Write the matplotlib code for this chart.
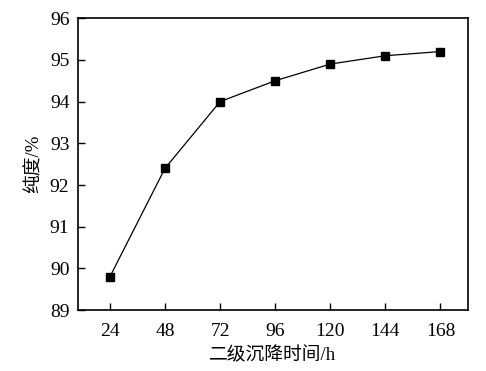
import matplotlib
matplotlib.use("Agg")
import matplotlib.pyplot as plt

hours = [24, 48, 72, 96, 120, 144, 168]
purity = [89.8, 92.4, 94.0, 94.5, 94.9, 95.1, 95.2]
yticks = [89, 90, 91, 92, 93, 94, 95, 96]

plt.rcParams['font.family'] = ['Liberation Serif', 'Noto Sans CJK SC']

fig = plt.figure(figsize=(4.86, 3.71), dpi=100)
ax = fig.add_axes([0.160, 0.164, 0.803, 0.787])
ax.plot(hours, purity, color='black', linewidth=0.9, marker='s', markersize=6)
ax.set_xlim(10, 180)
ax.set_ylim(89, 96)
ax.set_xticks(hours)
ax.set_yticks(yticks)
ax.tick_params(direction='in', labelsize=14, length=5, width=1, top=False, right=False)
ax.tick_params(axis='x', pad=9)
ax.tick_params(axis='y', pad=6)
for s in ax.spines.values():
    s.set_linewidth(1.2)
ax.set_xlabel('二级沉降时间/h', fontsize=13.5, labelpad=5)
ax.set_ylabel('纯度/%', fontsize=13.5, labelpad=5)
fig.savefig('out.png', dpi=100)
